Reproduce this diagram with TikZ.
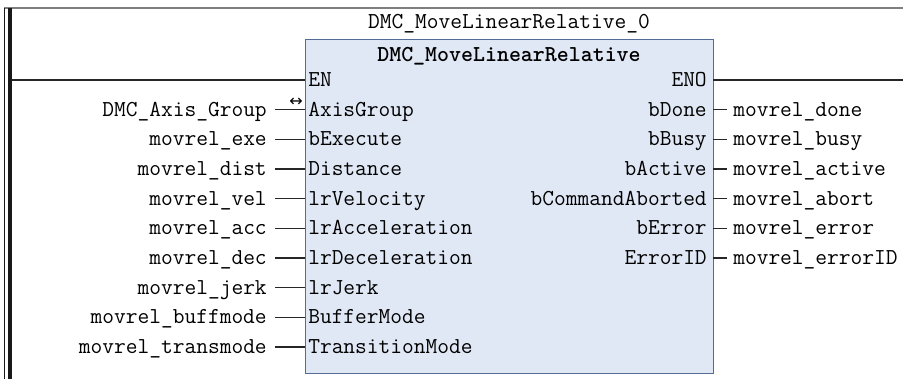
\documentclass[tikz,border=0pt]{standalone}
\usepackage{fontspec}
\newfontfamily\arrowfont{DejaVu Sans}
\usepackage{tikz}
\usetikzlibrary{positioning}
\definecolor{fbfill}{HTML}{E1E8F5}
\definecolor{fbdraw}{HTML}{526C96}
\definecolor{railgray}{HTML}{7F7F7F}
\tikzset{
  fbbox/.style={draw=fbdraw, fill=fbfill, line width=1.1pt, inner sep=0pt},
  fbtext/.style={font=\ttfamily\fontsize{17.1}{17.1}\selectfont,
    text height=13pt, text depth=3pt, inner ysep=0pt},
  fbpinin/.style={fbtext, anchor=west, inner xsep=2.25pt},
  fbpinout/.style={fbtext, anchor=east, inner xsep=4.5pt},
  fbvarin/.style={fbtext, inner xsep=6pt},
  fbvarout/.style={fbtext, inner xsep=4.5pt},
  fbwire/.style={line width=1pt, draw=black!85},
  fbrail/.style={draw=black!90}
}
\begin{document}
\begin{tikzpicture}[x=0.75pt, y=-0.75pt, node distance=22.5pt]
  \useasboundingbox (0,0) rectangle (903,379);

  % power rail and top border
  \draw[railgray, line width=1.5pt] (4,8) -- (903,8);
  \draw[fbrail, line width=1.1pt] (4.5,8) -- (4.5,379);
  \draw[fbrail, line width=2.6pt] (10,8) -- (10,379);

  % function block
  \node[fbtext] (inst) at (509,22) {DMC\_MoveLinearRelative\_0};
  \node[fbbox, anchor=north west, minimum width=306pt,
    minimum height=250.5pt] (fb) at (305,39) {};
  \node[fbtext, font=\ttfamily\bfseries\fontsize{17.1}{17.1}\selectfont]
    (fbtype) at (509,55) {DMC\_MoveLinearRelative};

  % inputs
  \node[fbpinin] (inen) at (305,80) {EN};
  \node[fbpinin] (inaxis) at (305,109.65) {AxisGroup};
  \node[fbpinin] (inexe) at (305,139.3) {bExecute};
  \node[fbpinin] (indist) at (305,168.95) {Distance};
  \node[fbpinin] (invel) at (305,198.6) {lrVelocity};
  \node[fbpinin] (inacc) at (305,228.25) {lrAcceleration};
  \node[fbpinin] (indec) at (305,257.9) {lrDeceleration};
  \node[fbpinin] (injerk) at (305,287.55) {lrJerk};
  \node[fbpinin] (inbuff) at (305,317.2) {BufferMode};
  \node[fbpinin] (intrans) at (305,346.85) {TransitionMode};

  \node[fbvarin, left=of inaxis] (vaxis) {DMC\_Axis\_Group};
  \node[fbvarin, left=of inexe] (vexe) {movrel\_exe};
  \node[fbvarin, left=of indist] (vdist) {movrel\_dist};
  \node[fbvarin, left=of invel] (vvel) {movrel\_vel};
  \node[fbvarin, left=of inacc] (vacc) {movrel\_acc};
  \node[fbvarin, left=of indec] (vdec) {movrel\_dec};
  \node[fbvarin, left=of injerk] (vjerk) {movrel\_jerk};
  \node[fbvarin, left=of inbuff] (vbuff) {movrel\_buffmode};
  \node[fbvarin, left=of intrans] (vtrans) {movrel\_transmode};
  \node[font=\arrowfont\fontsize{12}{12}\selectfont, inner sep=0pt]
    (axisarrow) at (296,102.5) {↔};

  % outputs
  \node[fbpinout] (outeno) at (713,80) {ENO};
  \node[fbpinout] (outdone) at (713,109.65) {bDone};
  \node[fbpinout] (outbusy) at (713,139.3) {bBusy};
  \node[fbpinout] (outactive) at (713,168.95) {bActive};
  \node[fbpinout] (outabort) at (713,198.6) {bCommandAborted};
  \node[fbpinout] (outerror) at (713,228.25) {bError};
  \node[fbpinout] (outerrid) at (713,257.9) {ErrorID};

  \node[fbvarout, right=10.5pt of outdone] (rdone) {movrel\_done};
  \node[fbvarout, right=10.5pt of outbusy] (rbusy) {movrel\_busy};
  \node[fbvarout, right=10.5pt of outactive] (ractive) {movrel\_active};
  \node[fbvarout, right=10.5pt of outabort] (rabort) {movrel\_abort};
  \node[fbvarout, right=10.5pt of outerror] (rerror) {movrel\_error};
  \node[fbvarout, right=10.5pt of outerrid] (rerrid) {movrel\_errorID};

  % wires
  \coordinate (railen) at (11.5,80);
  \coordinate (enoend) at (903,80);
  \draw[fbwire] (railen) -- (inen.west);
  \draw[fbwire] (outeno.east) -- (enoend);
  \draw[fbwire] (vaxis.east) -- (inaxis.west);
  \draw[fbwire] (vexe.east) -- (inexe.west);
  \draw[fbwire] (vdist.east) -- (indist.west);
  \draw[fbwire] (vvel.east) -- (invel.west);
  \draw[fbwire] (vacc.east) -- (inacc.west);
  \draw[fbwire] (vdec.east) -- (indec.west);
  \draw[fbwire] (vjerk.east) -- (injerk.west);
  \draw[fbwire] (vbuff.east) -- (inbuff.west);
  \draw[fbwire] (vtrans.east) -- (intrans.west);
  \draw[fbwire] (outdone.east) -- (rdone.west);
  \draw[fbwire] (outbusy.east) -- (rbusy.west);
  \draw[fbwire] (outactive.east) -- (ractive.west);
  \draw[fbwire] (outabort.east) -- (rabort.west);
  \draw[fbwire] (outerror.east) -- (rerror.west);
  \draw[fbwire] (outerrid.east) -- (rerrid.west);
\end{tikzpicture}
\end{document}
